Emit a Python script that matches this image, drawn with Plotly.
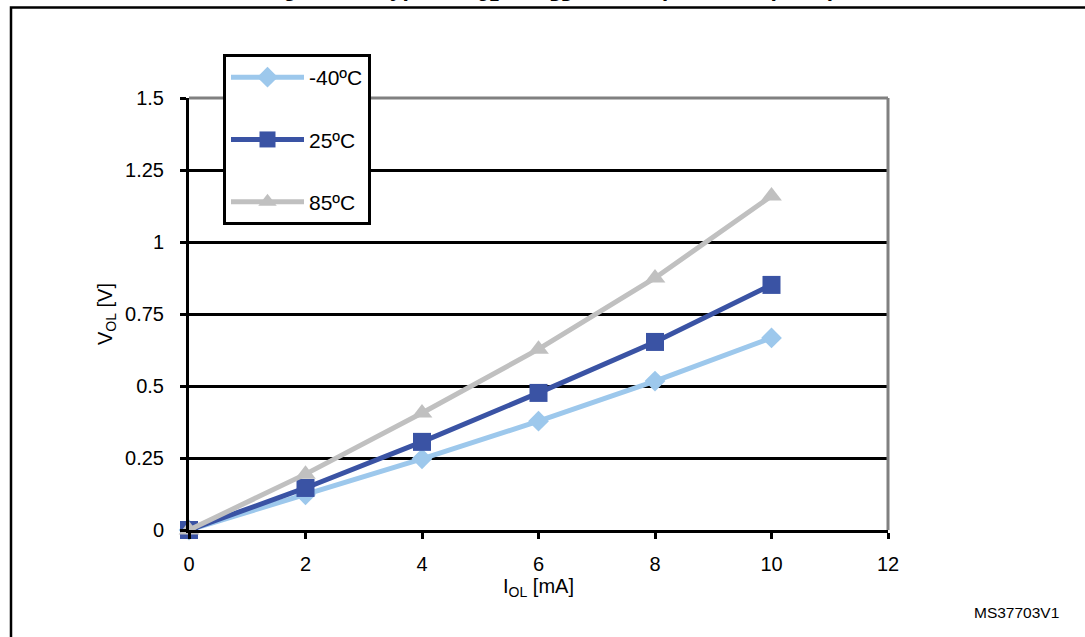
import plotly.graph_objects as go

# Data
i_ol = [0, 2, 4, 6, 8, 10]
v_m40 = [0, 0.122, 0.247, 0.378, 0.517, 0.667]
v_25 = [0, 0.146, 0.306, 0.476, 0.653, 0.851]
v_85 = [0, 0.194, 0.406, 0.628, 0.875, 1.16]
series_names = ["-40ºC", "25ºC", "85ºC"]
x_ticks = [0, 2, 4, 6, 8, 10, 12]
y_ticks = [0, 0.25, 0.5, 0.75, 1, 1.25, 1.5]
y_tick_labels = ["0", "0.25", "0.5", "0.75", "1", "1.25", "1.5"]

W, H = 1085, 637
L, R, T, B = 189, 197, 98, 107
pw, ph = W - L - R, H - T - B

FONT = "Arial, Liberation Sans, sans-serif"

fig = go.Figure()
styles = [
    dict(color="#9DC8EC", symbol="diamond", size=16),
    dict(color="#3A53A4", symbol="square", size=18),
    dict(color="#C0C0C0", symbol="triangle-up", size=18),
]
for name, ys, st in zip(series_names, [v_m40, v_25, v_85], styles):
    fig.add_trace(go.Scatter(
        x=i_ol, y=ys, name=name, mode="lines+markers",
        line=dict(color=st["color"], width=5),
        marker=dict(color=st["color"], symbol=st["symbol"], size=st["size"]),
        legendgroup=name, cliponaxis=False,
    ))

def px_x(p):
    return (p - L) / pw

def px_y(p):
    return (H - B - p) / ph

fig.update_layout(
    width=W, height=H,
    margin=dict(l=L, r=R, t=T, b=B),
    paper_bgcolor="white", plot_bgcolor="white",
    font=dict(family=FONT, size=20, color="black"),
    showlegend=True,
    legend=dict(
        x=px_x(223), y=px_y(54), xanchor="left", yanchor="top",
        bordercolor="black", borderwidth=3, bgcolor="white",
        font=dict(family=FONT, size=21, color="black"),
        tracegroupgap=32, itemwidth=73,
    ),
    title=dict(
        text="<b>Figure 24. Typical V<sub>OL</sub> @ V<sub>DD</sub> = 3.0 V (standard ports)</b>",
        font=dict(family=FONT, size=23, color="black"),
        x=0.506, xanchor="center", xref="container",
        y=1, yanchor="bottom", yref="container",
        pad=dict(b=4),
    ),
    xaxis=dict(
        range=[0, 12], tickvals=x_ticks, ticktext=[str(v) for v in x_ticks],
        showgrid=False, zeroline=False,
        showline=True, linecolor="black", linewidth=3,
        ticks="outside", ticklen=6, tickwidth=2.5, tickcolor="black",
        tickfont=dict(family=FONT, size=20), ticklabelstandoff=8,
        title=dict(text="I<sub>OL</sub> [mA]", font=dict(family=FONT, size=20), standoff=5),
    ),
    yaxis=dict(
        range=[0, 1.5], tickvals=y_ticks, ticktext=y_tick_labels,
        showgrid=True, gridcolor="black", gridwidth=3, zeroline=False,
        showline=True, linecolor="black", linewidth=3,
        ticks="outside", ticklen=6, tickwidth=2.5, tickcolor="black",
        tickfont=dict(family=FONT, size=20), ticklabelstandoff=12,
        title=dict(text="V<sub>OL</sub> [V]", font=dict(family=FONT, size=20), standoff=8),
    ),
    shapes=[
        # gray plot-area border on top and right
        dict(type="line", xref="paper", yref="paper", x0=0, x1=1, y0=1, y1=1,
             line=dict(color="#808080", width=3), layer="above"),
        dict(type="line", xref="paper", yref="paper", x0=1, x1=1, y0=0, y1=1,
             line=dict(color="#808080", width=3), layer="above"),
        # outer figure frame
        dict(type="rect", xref="paper", yref="paper",
             x0=px_x(11), x1=px_x(1095), y0=px_y(7.5), y1=px_y(650),
             line=dict(color="black", width=2.5), layer="below"),
    ],
    annotations=[
        dict(text="MS37703V1", xref="paper", yref="paper",
             x=px_x(1061), y=px_y(612), xanchor="right", yanchor="middle",
             showarrow=False, font=dict(family=FONT, size=15.5, color="black")),
    ],
)

fig.write_html("out.html", config={"displayModeBar": False},
               post_script="document.body.style.margin='0';")
